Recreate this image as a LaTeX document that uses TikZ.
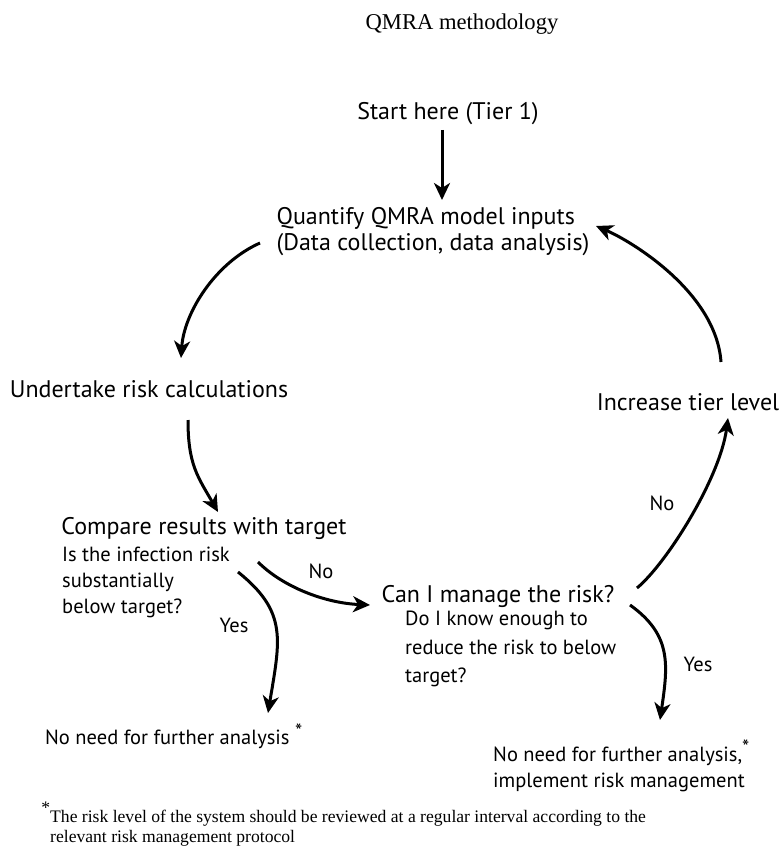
\documentclass[tikz,border=0pt]{standalone}
\usepackage{fontspec}
\setmainfont{Liberation Serif}
\newfontfamily\diagfont{PT Sans}
\usetikzlibrary{arrows.meta}
\tikzset{
  big/.style={font=\diagfont\fontsize{24}{26}\selectfont, inner sep=0},
  small/.style={font=\diagfont\fontsize{20.5}{26}\selectfont, inner sep=0, align=left},
  serif/.style={font=\rmfamily\fontsize{17.6}{19.5}\selectfont, inner sep=0, align=left},
  arr/.style={line width=3pt, -{Stealth[length=17pt,width=16pt,inset=5pt]}},
}

\begin{document}
\begin{tikzpicture}[x=1pt,y=-1pt]
  \useasboundingbox (0,0) rectangle (781,848);
  \node [font=\rmfamily\fontsize{22.6}{26}\selectfont, inner sep=0] (title) at (462,24) {QMRA methodology};

  \node [big] (start) at (448,114) {Start here (Tier 1)};
  \node [big, align=left] (quant) at (433,232) {Quantify QMRA model inputs\\(Data collection, data analysis)};
  \node [big] (under) at (149,389) {Undertake risk calculations};
  \node [big] (incr) at (688,402) {Increase tier level};
  \node [big] (comp) at (204,528) {Compare results with target};
  \node [small, anchor=north west] (isq) at (62,547) {Is the infection risk\\substantially\\below target?};
  \node [big] (can) at (498,596) {Can I manage the risk?};
  \node [small, anchor=north west, font=\diagfont\fontsize{20.5}{28.5}\selectfont] (know) at (405,611) {Do I know enough to\\reduce the risk to below\\target?};

  \node [small] (no1) at (321,571) {No};
  \node [small] (yes1) at (234,625) {Yes};
  \node [small] (no2) at (662,503) {No};
  \node [small] (yes2) at (698,664) {Yes};

  \node [small, anchor=west] (nf1) at (45,736) {No need for further analysis \raisebox{.6ex}{*}};
  \node [small, anchor=north west] (nf2) at (493,740) {No need for further analysis,\raisebox{.6ex}{*}\\implement risk management};

  \node [serif, anchor=north west] (note) at (50,802) {\llap{\raisebox{1.1ex}{*}}The risk level of the system should be reviewed at a regular interval according to the\\relevant risk management protocol};

  \draw [arr] ([shift={(-6,16)}]start.center) -- ([shift={(9,-32)}]quant.center);
  \draw [arr] ([shift={(-173,11)}]quant.center) .. controls +(-45,20) and +(3,-45) .. ([shift={(32,-31)}]under.center);
  \draw [arr] ([shift={(39,31)}]under.center) .. controls +(0,45) and +(-20,-35) .. ([shift={(14,-16)}]comp.center);
  \draw [arr] ([shift={(54,34)}]comp.center) .. controls +(25,25) and +(-45,-2) .. ([shift={(-128,9)}]can.center);
  \draw [arr] ([shift={(34,44)}]comp.center) .. controls +(50,40) and +(12,-73) .. ([shift={(223,-23)}]nf1.west);
  \draw [arr] ([shift={(139,-8)}]can.center) .. controls +(30,-25) and +(-8,60) .. ([shift={(40,16)}]incr.center);
  \draw [arr] ([shift={(132,9)}]can.center) .. controls +(42,30) and +(8,-55) .. ([shift={(167,-20)}]nf2.north west);
  \draw [arr] ([shift={(33,-40)}]incr.center) .. controls +(-5,-70) and +(35,15) .. ([shift={(163,-6)}]quant.center);
\end{tikzpicture}
\end{document}
